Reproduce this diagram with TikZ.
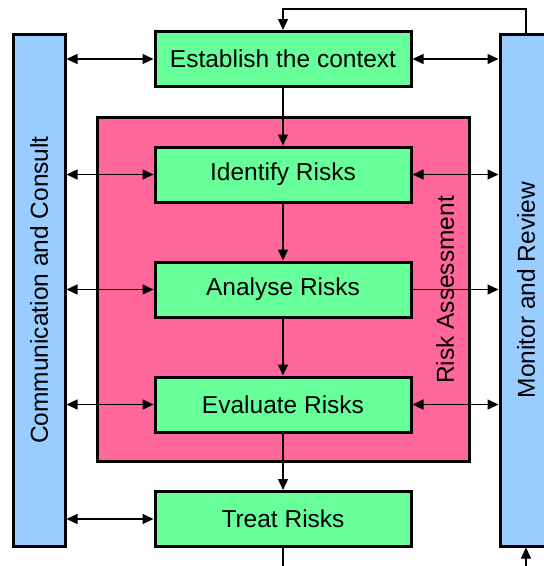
\documentclass[tikz,border=0pt]{standalone}
\usepackage{fontspec}
\setmainfont{Liberation Sans}
\usetikzlibrary{arrows.meta}
\definecolor{boxgreen}{HTML}{66FF99}
\definecolor{riskpink}{HTML}{FF6699}
\definecolor{barblue}{HTML}{99CCFF}
\begin{document}
\begin{tikzpicture}[x=1pt,y=-1pt,
  stepbox/.style={draw=black, line width=3pt, fill=boxgreen, minimum width=256pt, minimum height=55pt, inner sep=0pt, font=\fontsize{24.5}{29}\selectfont},
  barbox/.style={draw=black, line width=3pt, fill=barblue, inner sep=0pt, minimum width=52pt, minimum height=512pt},
  lbl/.style={font=\fontsize{24.5}{29}\selectfont, inner sep=0pt, rotate=90},
  arr/.style={line width=1.4pt, -{Triangle[length=11pt,width=10pt]}},
  darr/.style={line width=1.4pt, {Triangle[length=11pt,width=10pt]}-{Triangle[length=11pt,width=10pt]}},
  plain/.style={line width=1.4pt}]
\useasboundingbox (0,0) rectangle (544,566);
\clip (0,0) rectangle (544,566);
% pink risk assessment area
\node[draw=black, line width=3pt, fill=riskpink, minimum width=372pt, minimum height=344pt, inner sep=0pt] (ra) at (283,289) {};
\node[lbl] (ralbl) at (445,290) {Risk Assessment};
% side bars
\node[barbox] (lb) at (39,290) {};
\node[barbox] (rb) at (526,290) {};
\node[lbl] (lblab) at (39,290) {Communication and Consult};
\node[lbl] (rblab) at (526,290) {Monitor and Review};
% steps
\node[stepbox] (est) at (283,59) {Establish the context};
\node[stepbox] (idr) at (283,174.5) {Identify Risks};
\node[stepbox] (anr) at (283,289.5) {Analyse Risks};
\node[stepbox] (evr) at (283,404.5) {Evaluate Risks};
\node[stepbox] (trr) at (283,519) {Treat Risks};
% vertical flow
\draw[arr] (est) -- (idr);
\draw[arr] (idr) -- (anr);
\draw[arr] (anr) -- (evr);
\draw[arr] (evr) -- (trr);
\coordinate (bot) at (283,570);
\draw[plain] (trr.south) -- (bot);
% top loop
\coordinate (loop) at (283,9);
\draw[arr] (rb.north) |- (loop) -- (est.north);
% bottom feed into monitor
\coordinate (rbot) at (526,570);
\draw[arr] (rbot) -- (rb.south);
% left communications
\foreach \n in {est,idr,anr,evr,trr}{
  \draw[darr] (lb.east |- \n.west) -- (\n.west);
}
% right monitor
\draw[darr] (est.east) -- (rb.west |- est.east);
\draw[darr] (idr.east) -- (rb.west |- idr.east);
\draw[arr] (anr.east) -- (rb.west |- anr.east);
\draw[darr] (evr.east) -- (rb.west |- evr.east);
\end{tikzpicture}
\end{document}
